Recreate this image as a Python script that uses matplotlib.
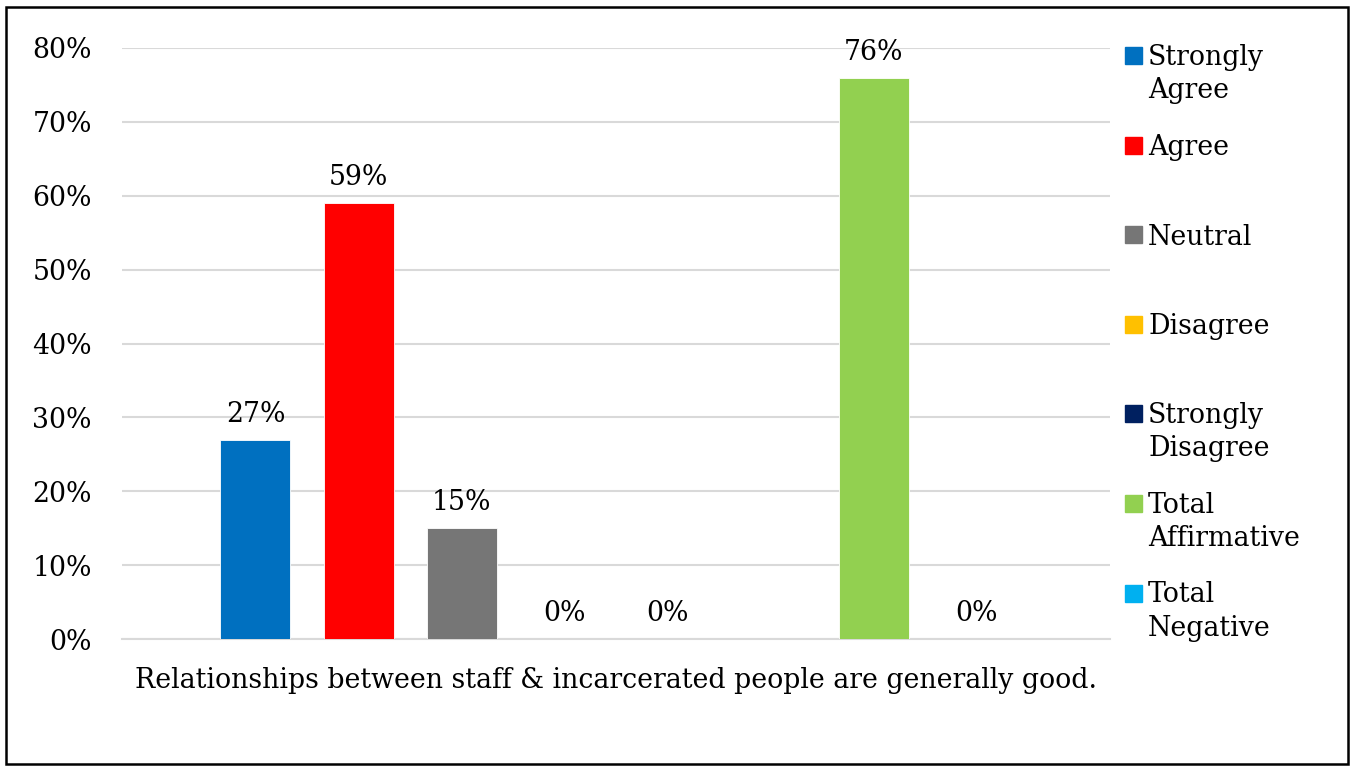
import matplotlib.pyplot as plt
from matplotlib.patches import Rectangle
import numpy as np

plt.rcParams['font.family'] = ['DejaVu Serif']

category = 'Relationships between staff & incarcerated people are generally good.'
series = ['Strongly\nAgree', 'Agree', 'Neutral', 'Disagree', 'Strongly\nDisagree',
          None, 'Total\nAffirmative', 'Total\nNegative']
values = [0.27, 0.59, 0.15, 0.0, 0.0, None, 0.76, 0.0]
colors = ['#0070C0', '#FF0000', '#767676', '#FFC000', '#002060', None, '#92D050', '#00B0F0']
yticks = [0, 0.1, 0.2, 0.3, 0.4, 0.5, 0.6, 0.7, 0.8]

FS = 19.3
fig = plt.figure(figsize=(13.51, 7.66), dpi=100)
ax = fig.add_axes([122/1351, 127/766, 988/1351, 591/766])

step = 103/988
width = 70/988
n = len(series)
px = 0.8/591  # data units per pixel on y
for i, (v, c) in enumerate(zip(values, colors)):
    if v is None:
        continue
    x = (i - (n - 1)/2) * step
    ax.bar(x, v, width=width, color=c, edgecolor='white', linewidth=0.6, zorder=3)
    ax.text(x, v + 18*px, f'{v*100:.0f}%', ha='center', va='baseline', fontsize=FS)

ax.set_xlim(-0.5, 0.5)
ax.set_ylim(0, 0.8)
ax.set_yticks(yticks)
ax.set_yticklabels([f'{t*100:.0f}%' for t in yticks], fontsize=FS)
ax.set_xticks([0])
ax.set_xticklabels([category], fontsize=FS, va='baseline')
ax.tick_params(axis='both', length=0)
ax.tick_params(axis='y', pad=21.6)
ax.tick_params(axis='x', pad=35.3)
ax.grid(axis='y', color='#D9D9D9', linewidth=1.5, zorder=0)
for s in ['top', 'right', 'left']:
    ax.spines[s].set_visible(False)
ax.spines['bottom'].set_color('#D9D9D9')
ax.spines['bottom'].set_linewidth(1.5)

# legend drawn by hand to keep Excel-like spacing
ly = 55.5
for lab, c in zip(series, colors):
    if lab is None:
        continue
    yc = 1 - ly/766
    fig.patches.append(Rectangle((1125/1351, yc - 8.5/766), 17/1351, 17/766,
                                 transform=fig.transFigure, color=c))
    extra = lab.count('\n') * 32.5  # baseline refers to the last line
    fig.text(1148/1351, yc - (10 + extra)/766, lab, ha='left', va='baseline',
             fontsize=FS, linespacing=1.3)
    ly += 89.6

fig.patches.append(Rectangle((6/1351, 2/766), 1342/1351, 757/766, transform=fig.transFigure,
                             fill=False, edgecolor='black', linewidth=1.8))

fig.savefig('out.png', dpi=100)
